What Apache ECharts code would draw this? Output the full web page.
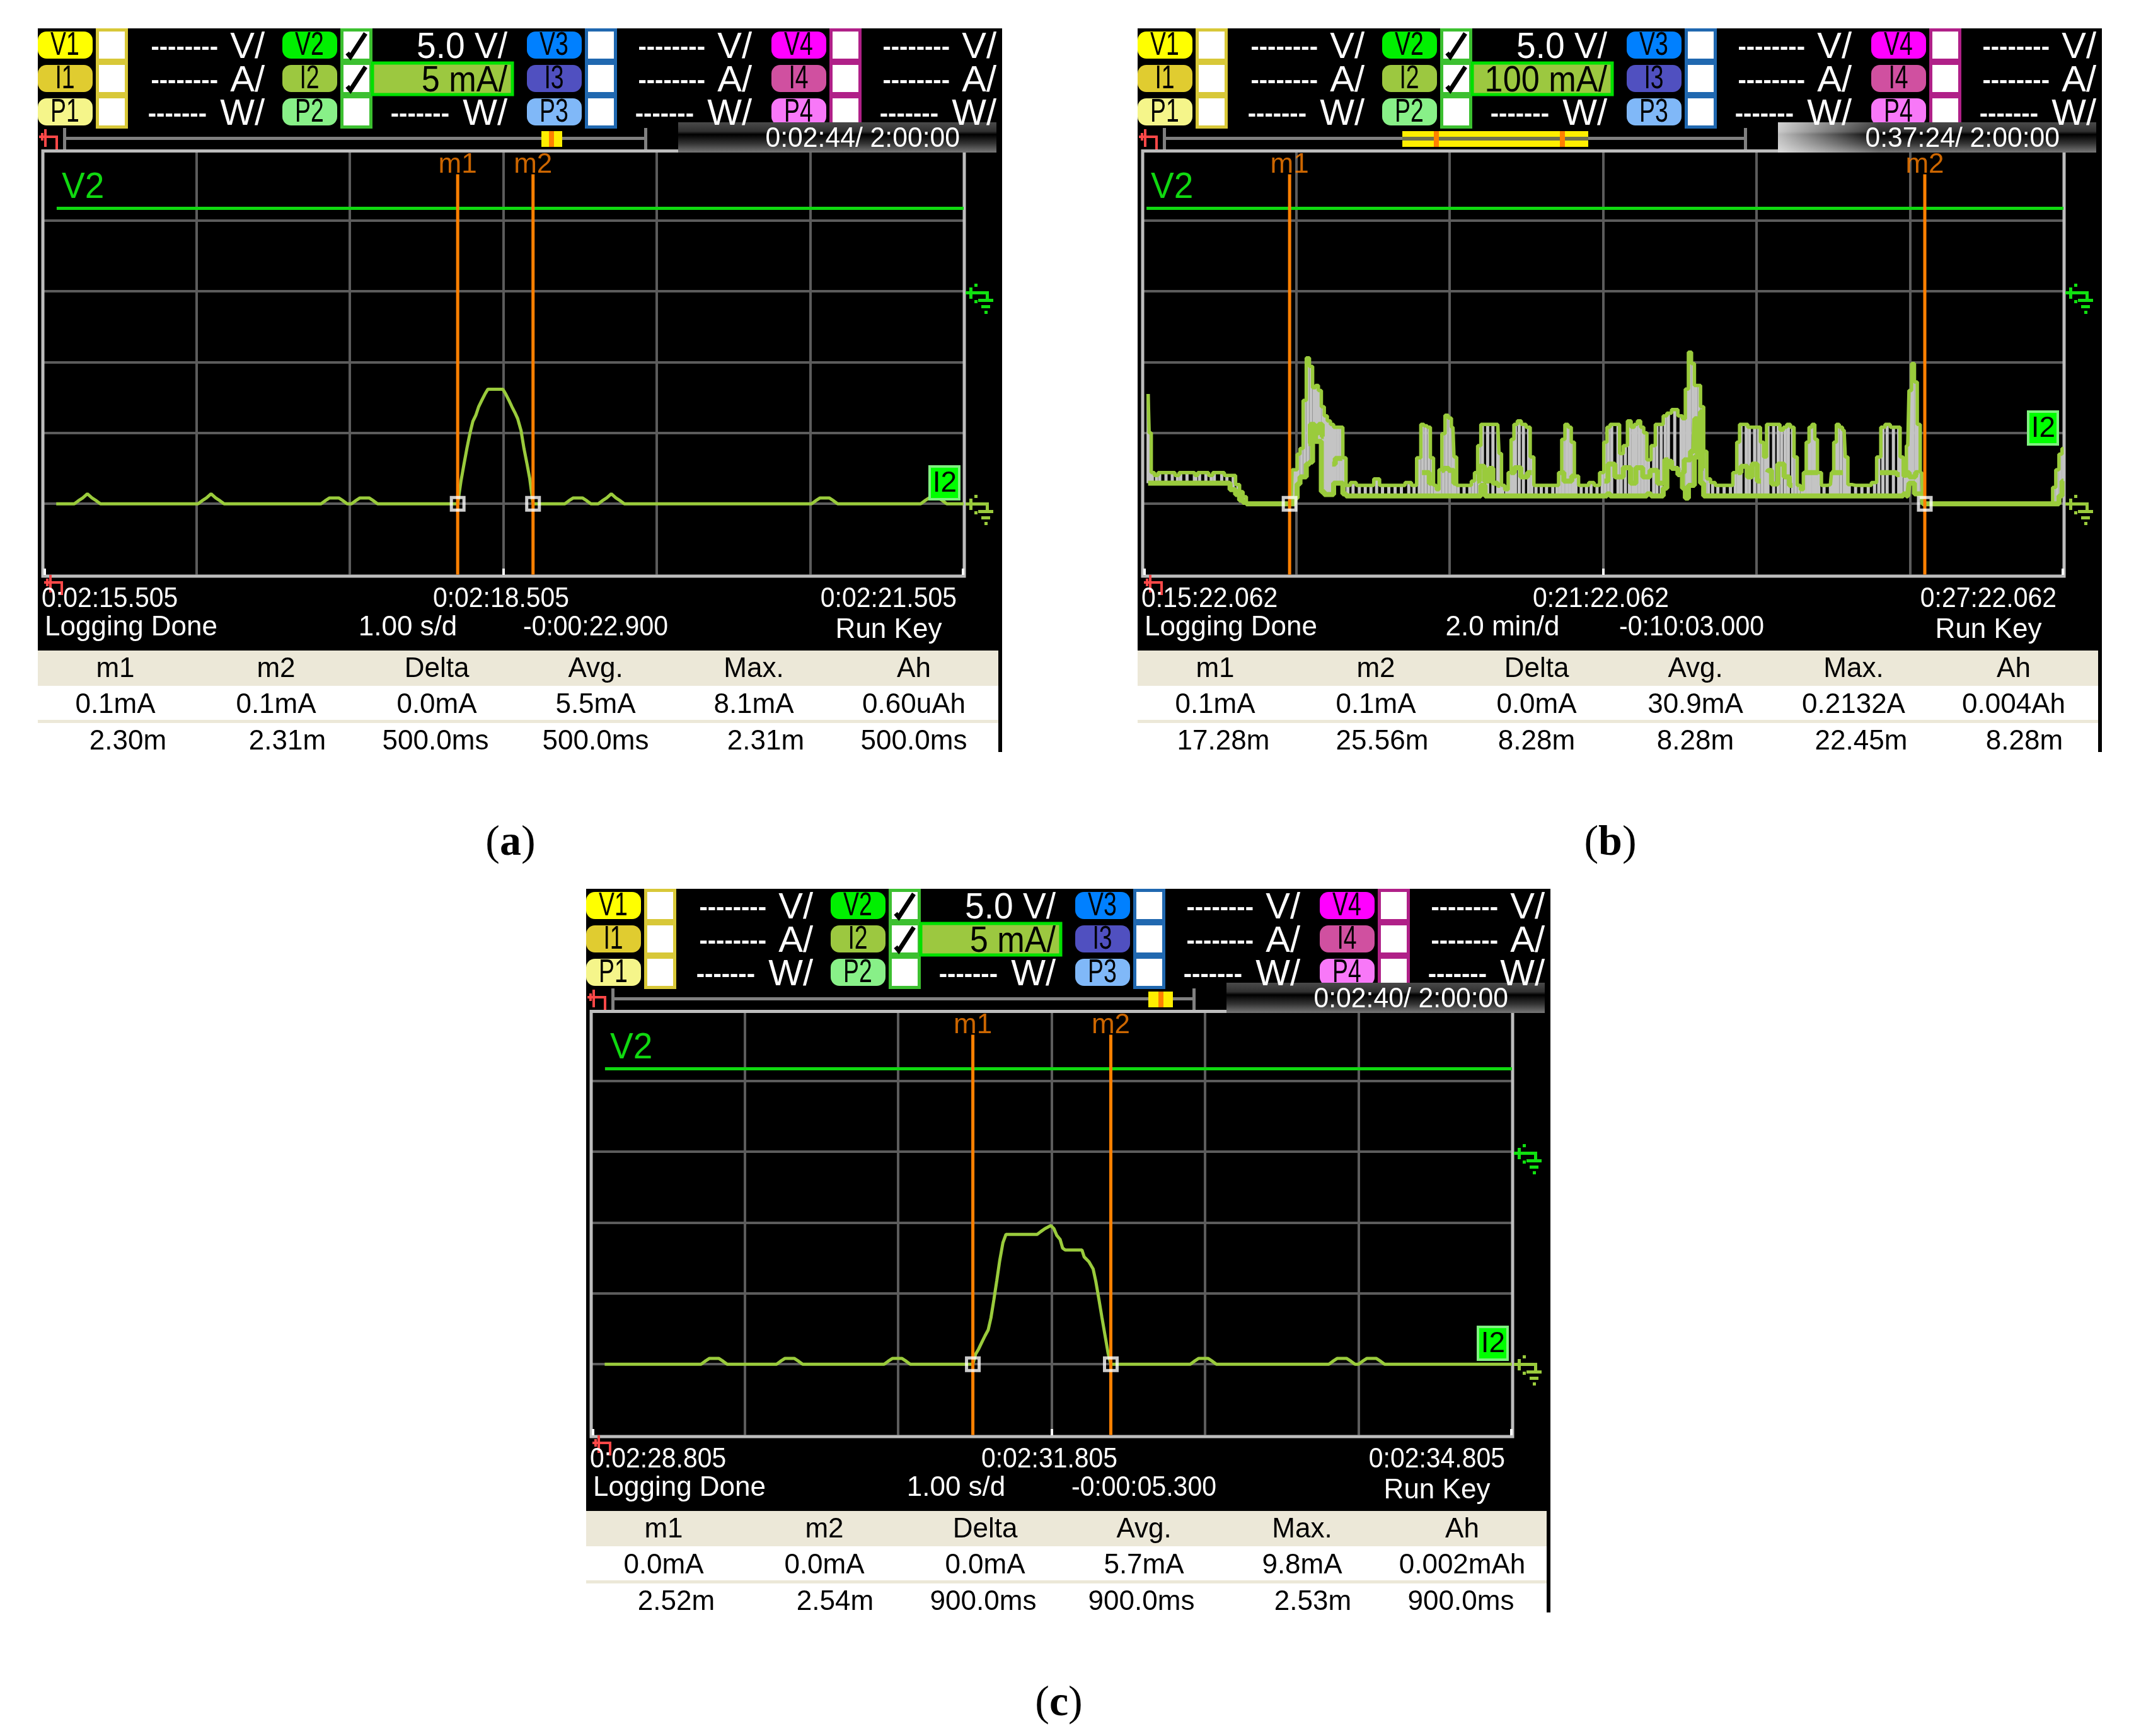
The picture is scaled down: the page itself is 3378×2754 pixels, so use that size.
<!DOCTYPE html>
<html>
<head>
<meta charset="utf-8">
<title>I2 current logs</title>
<script src="https://cdn.jsdelivr.net/npm/echarts@6/dist/echarts.min.js"></script>
<style>
  html, body { margin: 0; padding: 0; background: #fff; }
  #main { width: 3378px; height: 2754px; }
</style>
</head>
<body>
<div id="main"></div>
<script>
// panel a: seconds from left edge of screen, current in mA
const aTime = [0.087,
  0.205,0.23,0.26,0.29,0.32,0.35,0.375,
  1.011,1.036,1.066,1.096,1.126,1.156,1.181,
  1.813,1.838,1.868,1.898,1.928,1.958,1.983,
  2.011,2.036,2.066,2.096,2.126,2.156,2.181,
  2.703,2.724,2.744,2.763,2.782,2.802,2.821,2.84,2.86,2.881,2.9,
  2.997,3.016,3.037,3.056,3.075,3.094,3.116,3.135,3.154,3.173,3.194,
  3.401,3.426,3.456,3.486,3.516,3.546,3.571,
  3.619,3.644,3.674,3.704,3.734,3.764,3.789,
  5.009,5.034,5.064,5.094,5.124,5.154,5.179,
  5.72,5.745,5.775,5.805,5.835,5.865,5.89,
  6];
const aCurrent = [0,
  0,0.2,0.41,0.7,0.41,0.2,0,
  0,0.2,0.41,0.7,0.41,0.2,0,
  0,0.2,0.41,0.41,0.41,0.2,0,
  0,0.2,0.41,0.41,0.41,0.2,0,
  0,1.57,2.79,3.9,4.93,5.82,6.24,6.86,7.3,7.75,8.09,
  8.09,7.75,7.3,6.86,6.46,6.01,5.16,3.9,2.86,1.75,0,
  0,0.2,0.41,0.41,0.41,0.2,0,
  0,0.2,0.41,0.7,0.41,0.2,0,
  0,0.2,0.41,0.41,0.41,0.2,0,
  0,0.2,0.41,0.41,0.41,0.2,0,
  0];

// panel b: minutes from left edge, max and min of each logged column in mA
const bTime = [
  0.071,0.098,0.126,0.18,0.222,0.304,0.386,0.454,0.496,0.578,
  0.674,0.693,0.742,0.824,0.893,0.934,1.03,1.098,1.18,1.241,
  1.285,1.331,1.372,1.729,1.934,1.961,1.997,2.03,2.071,2.112,
  2.153,2.194,2.235,2.271,2.309,2.348,2.386,2.427,2.468,2.509,
  2.55,2.591,2.627,2.674,2.742,2.824,2.901,2.975,3.049,3.126,
  3.208,3.29,3.372,3.468,3.537,3.605,3.646,3.687,3.729,3.77,
  3.811,3.844,3.879,3.92,3.961,4.003,4.044,4.071,4.113,4.189,
  4.263,4.304,4.345,4.387,4.428,4.496,4.565,4.628,4.66,4.693,
  4.743,4.784,4.819,4.858,4.907,4.962,5.03,5.071,5.126,5.195,
  5.263,5.345,5.4,5.441,5.482,5.524,5.565,5.606,5.647,5.715,
  5.784,5.844,5.921,5.989,6.03,6.071,6.113,6.195,6.236,6.291,
  6.345,6.387,6.427,6.469,6.51,6.551,6.592,6.66,6.702,6.757,
  6.811,6.852,6.934,7.017,7.052,7.093,7.132,7.173,7.208,7.25,
  7.291,7.332,7.373,7.428,7.496,7.578,7.66,7.723,7.762,7.797,
  7.866,7.907,7.975,8.03,8.072,8.113,8.149,8.223,8.283,8.327,
  8.373,8.415,8.469,8.51,8.551,8.593,8.628,8.667,8.702,8.743,
  8.776,8.812,8.88,8.963,8.99,9.023,9.058,9.099,9.141,9.173,
  9.209,9.291,9.373,9.456,9.538,9.593,9.647,9.702,9.784,9.853,
  9.889,9.935,9.971,10.003,10.039,10.077,10.113,10.154,10.182,10.497,
  11.045,11.839,11.88,11.921,11.962,12];
const bHigh = [
  155,100,44,40,44,44,44,40,44,44,
  44,40,44,44,40,44,44,40,40,27,
  17,10,0,0,0,48,48,70,78,146,
  206,194,164,167,160,137,124,117,112,108,
  108,108,65,26,30,26,26,26,35,26,
  26,26,26,30,26,65,112,110,108,65,
  26,20,48,99,125,121,108,66,26,26,
  26,32,44,82,112,112,112,112,71,26,
  20,44,91,112,117,112,108,66,26,26,
  26,26,26,44,91,112,108,87,39,26,
  26,30,26,44,87,108,112,112,71,82,
  117,108,112,117,108,100,62,82,112,112,
  124,128,133,124,120,162,214,198,167,167,
  137,74,35,30,26,26,26,44,87,112,
  112,108,108,108,87,66,112,112,112,104,
  108,112,108,66,26,20,44,87,108,112,
  91,44,26,27,44,87,112,108,104,66,
  27,26,26,26,30,66,108,112,108,108,
  66,39,82,160,198,172,112,44,0,0,
  0,0,23,48,70,78];
const bLow = [
  29,29,29,29,29,29,29,29,29,29,
  29,29,29,29,29,29,29,29,20,13,
  5,2,0,0,0,0,8,28,38,38,
  56,59,97,88,88,17,13,13,13,29,
  29,29,14,11,11,11,11,11,11,11,
  11,11,11,11,11,11,11,11,11,11,
  11,11,11,11,11,11,11,11,11,11,
  11,11,11,11,26,11,11,11,11,11,
  11,11,11,11,11,11,11,11,11,11,
  11,11,11,11,11,11,11,11,11,11,
  11,11,11,11,11,14,11,11,11,11,
  11,11,11,11,11,11,14,11,11,11,
  22,60,50,41,22,8,26,26,66,66,
  29,11,11,11,11,11,11,11,11,11,
  11,11,11,11,11,11,11,11,11,11,
  11,11,11,11,11,11,11,11,11,11,
  11,11,11,11,11,11,11,11,11,11,
  11,11,11,11,11,11,11,11,11,11,
  11,14,11,29,29,14,14,14,0,0,
  0,0,0,0,11,32];
// brighter inner scribble inside the bursts, null = break
const bInnerTime = [
  2.16,2.21,2.27,2.32,2.36,null,2.47,2.55,2.6,null,3.64,3.7,3.77,null,3.9,3.95,4.03,4.08,null,
  4.359,4.414,4.496,4.537,4.592,4.66,null,4.797,4.893,4.962,5.071,null,5.441,5.537,5.647,null,
  6.017,6.113,6.195,6.332,6.387,6.469,6.565,6.66,6.757,6.852,null,7.017,7.099,7.181,7.21,7.25,7.29,7.31,null,
  7.756,7.839,7.921,7.962,8.058,null,8.14,8.168,8.223,8.332,8.387,8.469,null,8.62,8.7,8.8,null,
  8.976,9.127,null,9.607,9.784,9.867,null,9.949,10.031,10.113];
const bInnerCurrent = [
  85,112,100,112,95,null,56,64,64,null,44,44,29,null,47,50,47,29,null,
  32,53,32,50,29,26,null,44,51,38,44,null,44,32,39,null,
  32,56,38,51,29,51,38,47,29,62,null,44,62,74,120,70,130,50,null,
  44,53,38,56,32,null,44,47,28,56,38,26,null,44,44,44,null,
  44,44,null,44,44,41,null,44,38,44];

// panel c: seconds from left edge, current in mA
const cTime = [0.088,
  0.716,0.741,0.771,0.801,0.831,0.861,0.886,
  1.208,1.233,1.263,1.293,1.323,1.353,1.378,
  1.909,1.934,1.964,1.994,2.024,2.054,2.079,
  2.487,2.505,2.525,2.546,2.566,2.587,2.605,2.624,2.643,2.662,2.683,2.703,
  2.906,2.929,2.956,2.995,3.015,3.034,3.056,3.072,3.089,
  3.198,3.212,3.243,3.271,3.288,3.308,3.328,3.348,3.368,3.386,
  3.904,3.929,3.959,3.989,4.019,4.049,4.074,
  4.807,4.832,4.862,4.892,4.922,4.952,4.977,
  5,5.025,5.055,5.085,5.115,5.145,5.17,
  6];
const cCurrent = [0,
  0,0.2,0.41,0.41,0.41,0.2,0,
  0,0.2,0.41,0.41,0.41,0.2,0,
  0,0.2,0.41,0.41,0.41,0.2,0,
  0,0.71,1.08,1.56,2,2.42,3.28,4.55,5.9,7.31,8.58,9.17,
  9.17,9.36,9.57,9.79,9.58,9.09,8.8,8.2,8.06,
  8.06,7.58,7.24,6.72,5.86,4.61,3.31,2.05,0.79,0,
  0,0.2,0.41,0.41,0.41,0.2,0,
  0,0.2,0.41,0.41,0.41,0.2,0,
  0,0.2,0.41,0.41,0.41,0.2,0,
  0];

// V2 level in volts and the m1/m2 marker times of each panel
const v2Volts = 5.86;
const aMarkers = [2.703, 3.194];
const bMarkers = [1.915, 10.193];
const cMarkers = [2.487, 3.386];

const tableHeader = ['m1', 'm2', 'Delta', 'Avg.', 'Max.', 'Ah'];
const aRow1 = ['0.1mA', '0.1mA', '0.0mA', '5.5mA', '8.1mA', '0.60uAh'];
const aRow2 = ['2.30m', '2.31m', '500.0ms', '500.0ms', '2.31m', '500.0ms'];
const bRow1 = ['0.1mA', '0.1mA', '0.0mA', '30.9mA', '0.2132A', '0.004Ah'];
const bRow2 = ['17.28m', '25.56m', '8.28m', '8.28m', '22.45m', '8.28m'];
const cRow1 = ['0.0mA', '0.0mA', '0.0mA', '5.7mA', '9.8mA', '0.002mAh'];
const cRow2 = ['2.52m', '2.54m', '900.0ms', '900.0ms', '2.53m', '900.0ms'];
const aClock = ['0:02:15.505', '0:02:18.505', '0:02:21.505'];
const bClock = ['0:15:22.062', '0:21:22.062', '0:27:22.062'];
const cClock = ['0:02:28.805', '0:02:31.805', '0:02:34.805'];

const GREEN = '#9acb3c';
const ORANGE = '#ff8000';
const FONT = '"Liberation Sans", sans-serif';
const graphics = [];

function rect(x, y, w, h, fill, extra) {
  graphics.push(Object.assign({
    type: 'rect', z: 20, silent: true,
    shape: { x: x, y: y, width: w, height: h },
    style: { fill: fill }
  }, extra || {}));
}

function text(x, y, str, size, color, align, scaleX, font, weight) {
  graphics.push({
    type: 'text', z: 30, silent: true, x: x, y: y + 4, scaleX: scaleX || 1,
    style: {
      x: 0, y: 0, text: str, fill: color,
      font: (weight || 'normal') + ' ' + size + 'px ' + (font || FONT),
      textAlign: align || 'left', align: align || 'left',
      textVerticalAlign: 'middle', verticalAlign: 'middle'
    }
  });
}

function groundIcon(x, y, color) {
  rect(x, y + 10, 34, 5, color);
  rect(x + 32, y + 10, 5, 14, color);
  rect(x + 6, y + 4, 5, 18, color);
  rect(x + 14, y - 2, 5, 5, color);
  rect(x + 14, y + 24, 5, 5, color);
  rect(x + 20, y + 22, 24, 5, color);
  rect(x + 25, y + 32, 14, 5, color);
  rect(x + 30, y + 41, 5, 5, color);
}

function redArrow(x, y) {
  const c = '#ff4848';
  rect(x, y + 10, 30, 4, c);
  rect(x + 26, y + 10, 4, 22, c);
  rect(x + 8, y, 4, 28, c);
  rect(x + 3, y + 6, 4, 12, c);
}

function drawScreen(p) {
  const dx = p.dx, dy = p.dy;
  rect(dx + 60, dy + 45, 1530, 987, '#000', { z: -1 });

  // screen border around the trace area
  rect(dx + 68, dy + 239.5, 1462, 674.5, 'transparent', {
    z: 1, style: { fill: 'transparent', stroke: '#bdbdbd', lineWidth: 5 }
  });

  // channel badges and check boxes
  const groups = [
    { x: 60, frame: '#d8c838', right: 420, cols: ['#ffff00', '#e0cc30', '#f5f58a'], names: ['V1', 'I1', 'P1'] },
    { x: 448, frame: '#3cc030', right: 805, cols: ['#00f000', '#9cc840', '#88f088'], names: ['V2', 'I2', 'P2'] },
    { x: 836, frame: '#2068b0', right: 1193, cols: ['#0080ff', '#5050c0', '#80b8f8'], names: ['V3', 'I3', 'P3'] },
    { x: 1224, frame: '#b02088', right: 1581, cols: ['#ff00ff', '#d050a0', '#f878f8'], names: ['V4', 'I4', 'P4'] }
  ];
  const rowY = [50, 103, 156];
  groups.forEach((g, gi) => {
    rect(dx + g.x + 92, dy + 45, 51, 159, g.frame);
    g.names.forEach((n, i) => {
      const y = dy + rowY[i];
      rect(dx + g.x, y, 87, 43, g.cols[i], { shape: { x: dx + g.x, y: y, width: 87, height: 43, r: 14 } });
      text(dx + g.x + 43, y + 19, n, 52, '#000', 'center', 0.72);
      rect(dx + g.x + 97, y, 41, 43, '#fff');
      const unit = ['V/', 'A/', 'W/'][i];
      const checked = gi === 1 && i < 2;
      if (checked) {
        graphics.push({
          type: 'polyline', z: 31, silent: true,
          shape: { points: [[dx + g.x + 103, y + 34], [dx + g.x + 108, y + 40], [dx + g.x + 132, y + 3]] },
          style: { stroke: '#000', lineWidth: 7, fill: null }
        });
      }
      if (gi === 1 && i === 0) {
        text(dx + g.right, y + 22, p.volts, 58, '#fff', 'right', 0.95);
      } else if (gi === 1 && i === 1) {
        rect(dx + 591, dy + 100, 222, 50, '#9cc840', { style: { fill: '#9cc840', stroke: '#00e000', lineWidth: 5 } });
        text(dx + g.right, y + 22, p.amps, 58, '#000', 'right', 0.9);
      } else {
        text(dx + g.right, y + 22, unit, 58, '#fff', 'right');
        text(dx + g.right - (i === 2 ? 92 : 74), y + 22, i === 2 ? '-------' : '--------', 40, '#fff', 'right', 1, FONT, 'bold');
      }
    });
  });

  // scroll bar
  rect(dx + 103, dy + 217, 922, 5, '#808080');
  rect(dx + 100, dy + 203, 5, 34, '#808080');
  rect(dx + 1022, dy + 203, 5, 34, '#808080');
  rect(dx + p.barX, dy + 208, p.barW, 25, '#ffee00');
  if (p.barW > 100) rect(dx + p.barX, dy + 217, p.barW, 6, '#707050');
  p.barTicks.forEach(t => rect(dx + t, dy + 208, 8, 25, ORANGE));
  redArrow(dx + 62, dy + 205);
  rect(dx + 1076, dy + 194, 505, 48, '#000', {
    style: { fill: { type: 'linear', x: 0, y: 0, x2: 0, y2: 1, colorStops: [
      { offset: 0, color: '#4a4a4a' }, { offset: 0.3, color: '#303030' }, { offset: 0.4, color: '#000' },
      { offset: 0.7, color: '#333' }, { offset: 1, color: '#777' }] } }
  });
  if (p.progress) {
    rect(dx + 1076, dy + 194, p.progress, 48, '#000', {
      style: { fill: { type: 'linear', x: 0, y: 0, x2: 1, y2: 0, colorStops: [
        { offset: 0, color: 'rgba(255,255,255,0.75)' }, { offset: 1, color: 'rgba(255,255,255,0)' }] } }
    });
  }
  text(dx + 1523, dy + 217, p.elapsed, 44, '#fff', 'right', 0.97);

  // plot decoration
  text(dx + p.v2X, dy + 294, 'V2', 58, '#10d810', 'left', 0.95);
  rect(dx + p.flagX, dy + p.flagY, 47, 52, '#00ff00', { style: { fill: '#00ff00', stroke: '#80f080', lineWidth: 4 } });
  text(dx + p.flagX + 24, dy + p.flagY + 23, 'I2', 46, '#000', 'center', 1);
  groundIcon(dx + 1532, dy + 452, '#10e010');
  groundIcon(dx + 1532, dy + 787, GREEN);
  [69, 797, 1526].forEach(x => rect(dx + x, dy + 902, 4, 10, '#fff', { z: 25 }));
  redArrow(dx + 70, dy + 912);

  // status lines under the plot
  text(dx + 66, dy + 947, p.clock[0], 44, '#fff', 'left', 0.93);
  text(dx + 795, dy + 947, p.clock[1], 44, '#fff', 'center', 0.93);
  text(dx + 1518, dy + 947, p.clock[2], 44, '#fff', 'right', 0.93);
  text(dx + 71, dy + 992, 'Logging Done', 44, '#fff');
  text(dx + p.scaleX, dy + 992, p.scale, 44, '#fff', 'center');
  text(dx + p.delayX, dy + 992, p.delay, 44, '#fff', 'center', 0.93);
  text(dx + 1410, dy + 996, 'Run Key', 44, '#fff', 'center');

  // marker table
  rect(dx + 60, dy + 1032, 1524, 56, '#ece8d8');
  rect(dx + 60, dy + 1142, 1524, 5, '#ece8d8');
  rect(dx + 1584, dy + 1032, 6, 161, '#000');
  const centers = [183, 438, 693, 945, 1196, 1450];
  tableHeader.forEach((h, i) => {
    text(dx + centers[i], dy + 1058, h, 44, '#000', 'center');
    text(dx + centers[i], dy + 1115, p.row1[i], 44, '#000', 'center');
    text(dx + p.row2X[i], dy + 1173, p.row2[i], 44, '#000', 'center');
  });
}

const panels = [
  { dx: 0, dy: 0, volts: '5.0 V/', amps: '5 mA/', elapsed: '0:02:44/ 2:00:00', barX: 859, barW: 33, barTicks: [871],
    progress: 0, flagX: 1475, flagY: 740, clock: aClock, scale: '1.00 s/d', delay: '-0:00:22.900', v2X: 98, scaleX: 647, delayX: 945,
    row1: aRow1, row2: aRow2, row2X: [203, 456, 691, 945, 1215, 1450] },
  { dx: 1745, dy: 0, volts: '5.0 V/', amps: '100 mA/', elapsed: '0:37:24/ 2:00:00', barX: 480, barW: 295, barTicks: [530, 730],
    progress: 160, flagX: 1473, flagY: 653, clock: bClock, scale: '2.0 min/d', delay: '-0:10:03.000', v2X: 81, scaleX: 639, delayX: 939,
    row1: bRow1, row2: bRow2, row2X: [196, 448, 693, 945, 1208, 1467] },
  { dx: 870, dy: 1365, volts: '5.0 V/', amps: '5 mA/', elapsed: '0:02:40/ 2:00:00', barX: 952, barW: 39, barTicks: [968],
    progress: 0, flagX: 1475, flagY: 740, clock: cClock, scale: '1.00 s/d', delay: '-0:00:05.300', v2X: 98, scaleX: 647, delayX: 945,
    row1: cRow1, row2: cRow2, row2X: [203, 455, 690, 941, 1213, 1448] }
];
panels.forEach(drawScreen);

// sub figure captions
[['a', 810, 1338], ['b', 2555, 1338], ['c', 1680, 2703]].forEach(c => {
  graphics.push({
    type: 'text', z: 30, silent: true,
    style: {
      x: c[1], y: c[2], text: '(' + '{b|' + c[0] + '})', fill: '#000',
      font: '68px "Liberation Serif", serif', textAlign: 'center', align: 'center',
      textVerticalAlign: 'middle', verticalAlign: 'middle',
      rich: { b: { font: 'bold 68px "Liberation Serif", serif', fill: '#000' } }
    }
  });
});

function zip(xs, ys) {
  return xs.map((x, i) => (x === null ? [null, null] : [x, ys[i]]));
}

const grids = [], xAxes = [], yAxes = [], series = [];

function addPlot(i, left, top, xMax, xStep, yMin, yMax, yStep, markers, v2Start) {
  grids.push({ left: left, top: top + 237.5, width: 1461, height: 674, show: false });
  const line = { show: true, showMinLine: false, showMaxLine: false, lineStyle: { color: '#5c5c5c', width: 4 } };
  xAxes.push({ gridIndex: i, type: 'value', min: 0, max: xMax, interval: xStep,
    axisLine: { show: false }, axisTick: { show: false }, axisLabel: { show: false }, splitLine: line });
  yAxes.push({ gridIndex: i, type: 'value', min: yMin, max: yMax, interval: yStep,
    axisLine: { show: false }, axisTick: { show: false }, axisLabel: { show: false }, splitLine: line });
  yAxes.push({ gridIndex: i, type: 'value', min: -20, max: 10, interval: 5, show: false, splitLine: { show: false } });

  // V2 trace on its own volts axis
  series.push({ type: 'line', xAxisIndex: i, yAxisIndex: i * 2 + 1, symbol: 'none', z: 3, silent: true,
    lineStyle: { color: '#10d810', width: 5 }, data: [[v2Start, v2Volts], [xMax, v2Volts]] });

  // m1, m2 cursors
  const cursorTop = yMin + (yMax - yMin) * 0.942;
  markers.forEach((m, k) => {
    series.push({ type: 'line', xAxisIndex: i, yAxisIndex: i * 2, symbol: 'none', z: 6, silent: true,
      lineStyle: { color: ORANGE, width: 5 }, data: [[m, yMin], [m, cursorTop]] });
    series.push({ type: 'scatter', xAxisIndex: i, yAxisIndex: i * 2, symbolSize: 1, z: 7, silent: true,
      itemStyle: { color: 'transparent' },
      label: { show: true, position: 'top', distance: 1, offset: [0, 9], formatter: 'm' + (k + 1), color: ORANGE,
        fontFamily: FONT, fontSize: 44 },
      data: [[m, cursorTop]] });
  });
  series.push({ type: 'scatter', xAxisIndex: i, yAxisIndex: i * 2, symbol: 'rect', symbolSize: 20, z: 7, silent: true,
    itemStyle: { color: 'transparent', borderColor: '#fff', borderWidth: 5 },
    data: markers.map(m => [m, 0]) });
}

addPlot(0, 68, 0, 6, 1, -5, 25, 5, aMarkers, 0.09);
addPlot(1, 1813, 0, 12, 2, -100, 500, 100, bMarkers, 0.05);
addPlot(2, 938, 1365, 6, 1, -5, 25, 5, cMarkers, 0.09);

series.push({ type: 'line', xAxisIndex: 0, yAxisIndex: 0, symbol: 'none', z: 5, silent: true,
  lineStyle: { color: GREEN, width: 5 }, data: zip(aTime, aCurrent) });
series.push({ type: 'line', xAxisIndex: 2, yAxisIndex: 4, symbol: 'none', z: 5, silent: true,
  lineStyle: { color: GREEN, width: 5 }, data: zip(cTime, cCurrent) });

// panel b: grey min-max columns, green envelopes on top
series.push({ type: 'custom', xAxisIndex: 1, yAxisIndex: 2, z: 3, silent: true,
  renderItem: function (params, api) {
    const hi = api.coord([api.value(0), api.value(1)]);
    const lo = api.coord([api.value(0), api.value(2)]);
    return { type: 'rect', shape: { x: hi[0] - 2.5, y: hi[1], width: 5, height: lo[1] - hi[1] },
      style: { fill: '#c4c4c4' } };
  },
  data: bTime.map((t, i) => [t, bHigh[i], bLow[i]]) });
series.push({ type: 'line', xAxisIndex: 1, yAxisIndex: 2, symbol: 'none', step: 'middle', z: 4, silent: true,
  connectNulls: false, lineStyle: { color: GREEN, width: 8 }, data: zip(bInnerTime, bInnerCurrent) });
series.push({ type: 'line', xAxisIndex: 1, yAxisIndex: 2, symbol: 'none', step: 'middle', z: 5, silent: true,
  lineStyle: { color: GREEN, width: 5.5 }, data: zip(bTime, bHigh) });
series.push({ type: 'line', xAxisIndex: 1, yAxisIndex: 2, symbol: 'none', step: 'middle', z: 5, silent: true,
  lineStyle: { color: GREEN, width: 8 }, data: zip(bTime, bLow) });

const myChart = echarts.init(document.getElementById('main'), null, { renderer: 'canvas' });
myChart.setOption({
  animation: false,
  backgroundColor: '#fff',
  tooltip: { show: false },
  grid: grids,
  xAxis: xAxes,
  yAxis: yAxes,
  series: series,
  graphic: { elements: graphics }
});
</script>
</body>
</html>
